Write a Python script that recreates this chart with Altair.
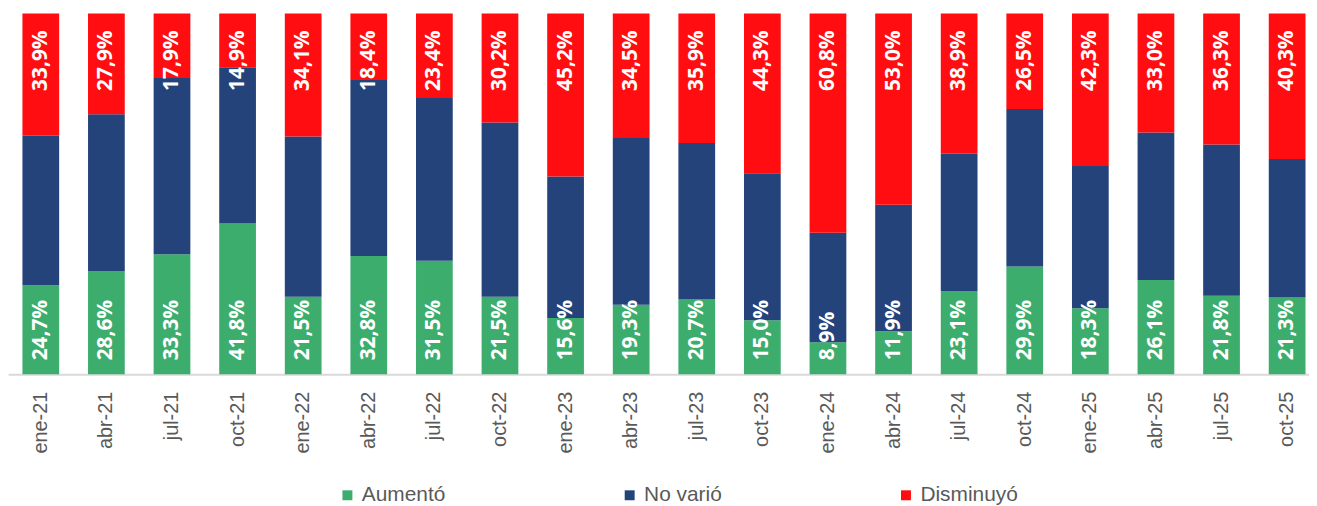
import altair as alt
import pandas as pd

periodos = ["ene-21", "abr-21", "jul-21", "oct-21", "ene-22", "abr-22", "jul-22", "oct-22",
            "ene-23", "abr-23", "jul-23", "oct-23", "ene-24", "abr-24", "jul-24", "oct-24",
            "ene-25", "abr-25", "jul-25", "oct-25"]
aumento = [24.7, 28.6, 33.3, 41.8, 21.5, 32.8, 31.5, 21.5, 15.6, 19.3,
           20.7, 15.0, 8.9, 11.9, 23.1, 29.9, 18.3, 26.1, 21.8, 21.3]
disminuyo = [33.9, 27.9, 17.9, 14.9, 34.1, 18.4, 23.4, 30.2, 45.2, 34.5,
             35.9, 44.3, 60.8, 53.0, 38.9, 26.5, 42.3, 33.0, 36.3, 40.3]
no_vario = [round(100 - a - d, 1) for a, d in zip(aumento, disminuyo)]

categorias = ["Aumentó", "No varió", "Disminuyó"]
colores = ["#3DAD6E", "#23437A", "#FF0D10"]


def fmt(v):
    return f"{v:.1f}".replace(".", ",") + "%"


rows = []
for i, p in enumerate(periodos):
    for k, (cat, serie) in enumerate(zip(categorias, [aumento, no_vario, disminuyo])):
        rows.append({"periodo": p, "categoria": cat, "valor": serie[i], "orden": k})
df = pd.DataFrame(rows)

lab = pd.DataFrame({
    "periodo": periodos,
    "lab_a": [fmt(v) for v in aumento],
    "lab_d": [fmt(v) for v in disminuyo],
})

xenc = alt.X(
    "periodo:N",
    sort=periodos,
    scale=alt.Scale(range=[0, 1320], paddingInner=0.44, paddingOuter=0.22),
    axis=alt.Axis(
        title=None,
        labelAngle=270,
        labelAlign="right",
        labelBaseline="middle",
        labelPadding=17,
        ticks=False,
        labelFont="Liberation Sans",
        labelFontSize=20,
        labelColor="#595959",
        domainColor="#D9D9D9",
        domainWidth=2,
        grid=False,
    ),
)

bars = alt.Chart(df).mark_bar().encode(
    x=xenc,
    y=alt.Y("valor:Q", stack="zero", scale=alt.Scale(domain=[0, 100]), axis=None),
    color=alt.Color(
        "categoria:N",
        scale=alt.Scale(domain=categorias, range=colores),
        sort=categorias,
        legend=alt.Legend(
            title=None,
            orient="none",
            direction="horizontal",
            legendX=331,
            legendY=474,
            columnPadding=174,
            symbolType="square",
            symbolSize=100,
            symbolStrokeWidth=0,
            labelFont="Liberation Sans",
            labelFontSize=21,
            labelColor="#595959",
            labelOffset=4,
            padding=0,
        ),
    ),
    order=alt.Order("orden:Q", sort="ascending"),
)

txt_a = alt.Chart(lab).mark_text(
    angle=270, align="left", baseline="middle", dx=14,
    font="Open Sans", fontWeight="bold", fontSize=21, color="white",
).encode(x=alt.X("periodo:N", sort=periodos), y=alt.datum(0), text="lab_a:N")

txt_d = alt.Chart(lab).mark_text(
    angle=270, align="right", baseline="middle", dx=-17,
    font="Open Sans", fontWeight="bold", fontSize=21, color="white",
).encode(x=alt.X("periodo:N", sort=periodos), y=alt.datum(100), text="lab_d:N")

chart = alt.layer(bars, txt_a, txt_d).properties(
    width=1309,
    height=363,
    autosize=alt.AutoSizeParams(type="none"),
    padding={"left": 0, "top": 4, "right": 0, "bottom": 131},
).configure_view(strokeWidth=0)

chart.save("out.html", embed_options={"renderer": "svg", "actions": False})
